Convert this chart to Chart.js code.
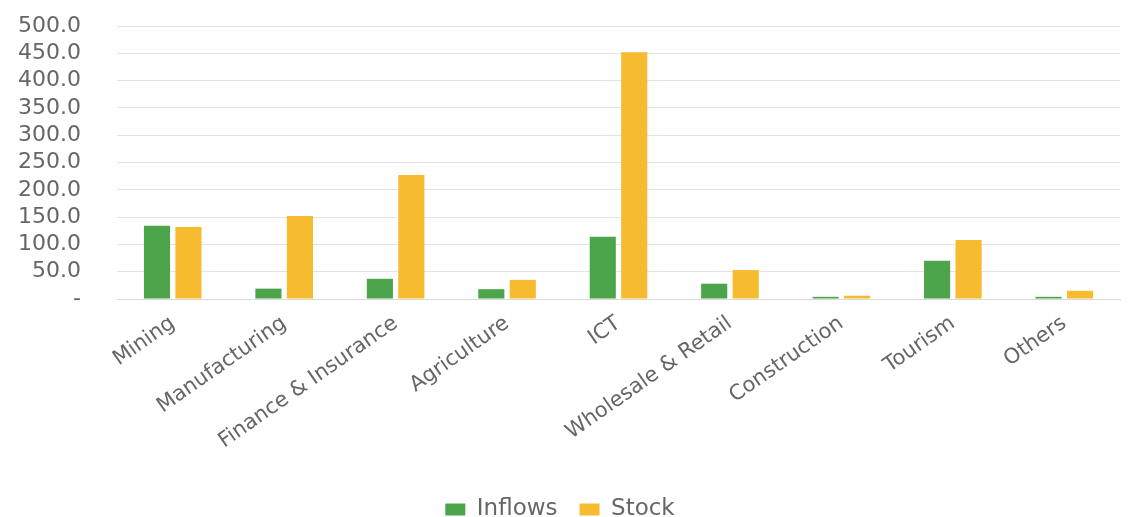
<!DOCTYPE html>
<html>
<head>
<meta charset="utf-8">
<script src="https://cdn.jsdelivr.net/npm/chart.js@4"></script>
<style>
  html, body { margin: 0; padding: 0; background: #fff; }
  #wrap { width: 1133px; height: 517px; }
</style>
</head>
<body>
<div id="wrap"><canvas id="sectorChart"></canvas></div>
<script>
const sectors = ['Mining', 'Manufacturing', 'Finance & Insurance', 'Agriculture', 'ICT', 'Wholesale & Retail', 'Construction', 'Tourism', 'Others'];
const inflows = [134, 19, 37, 18, 114, 28, 4, 70, 4];
const stock = [132, 152, 227, 35, 452, 53, 6, 108, 15];
const yTicks = [0, 50, 100, 150, 200, 250, 300, 350, 400, 450, 500];

document.addEventListener('DOMContentLoaded', function () {
    const ctx = document.getElementById('sectorChart');
    new Chart(ctx, {
        type: 'bar',
        data: {
            labels: sectors,
            datasets: [{
                label: 'Inflows',
                data: inflows,
                backgroundColor: '#4da54b',
                categoryPercentage: 0.565,
                barPercentage: 0.83,
            }, {
                label: 'Stock',
                data: stock,
                backgroundColor: '#f7bb2f',
                categoryPercentage: 0.565,
                barPercentage: 0.83,
            }]
        },
        options: {
            responsive: true,
            maintainAspectRatio: false,
            animation: false,
            // negative bottom padding pulls the legend down towards the edge
            layout: { padding: { top: 26, right: 13, left: 0, bottom: -14 } },
            plugins: {
                tooltip: { enabled: false },
                legend: {
                    position: 'bottom',
                    labels: {
                        boxWidth: 20,
                        boxHeight: 12,
                        color: '#666666',
                        font: { family: 'DejaVu Sans', size: 23 },
                        padding: 22
                    }
                }
            },
            scales: {
                x: {
                    grid: { display: false },
                    border: { color: '#d9d9d9' },
                    afterFit: function (axis) { axis.height = 177; },
                    ticks: {
                        color: '#666666',
                        font: { family: 'DejaVu Sans', size: 21 },
                        minRotation: 35,
                        maxRotation: 35,
                        autoSkip: false,
                        padding: 4
                    }
                },
                y: {
                    min: 0,
                    max: 500,
                    afterBuildTicks: function (axis) {
                        axis.ticks = yTicks.map(function (v) { return { value: v }; });
                    },
                    afterFit: function (axis) { axis.width = 117; },
                    grid: { color: '#e3e3e3', drawTicks: true, tickLength: 32, tickColor: 'rgba(0,0,0,0)' },
                    border: { display: false },
                    ticks: {
                        color: '#666666',
                        font: { family: 'DejaVu Sans', size: 22 },
                        autoSkip: false,
                        padding: 4,
                        callback: function (v) { return v === 0 ? '-' : v.toFixed(1); }
                    }
                }
            }
        }
    });
});
</script>
</body>
</html>
